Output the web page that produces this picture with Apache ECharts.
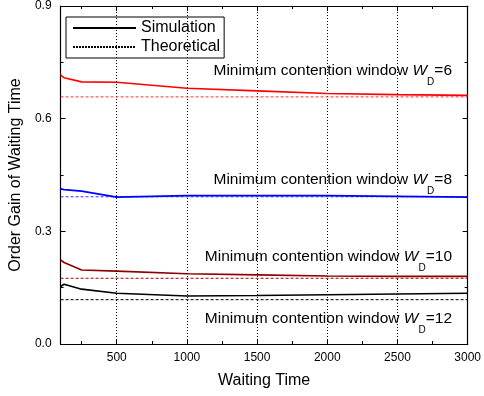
<!DOCTYPE html>
<html>
<head>
    <meta charset="utf-8">
    <title>Order Gain of Waiting Time</title>
    <script src="https://cdn.jsdelivr.net/npm/echarts@6.0.0/dist/echarts.min.js"></script>
    <style>
        html, body { margin: 0; padding: 0; background: #fff; }
        #main { width: 484px; height: 396px; }
    </style>
</head>
<body>
    <div id="main"></div>
    <script type="text/javascript">
        // waiting time samples
        var waitTime = [100, 125, 250, 500, 1000, 1500, 2000, 2500, 3000];
        // simulation results, one per minimum contention window
        var simW6  = [0.716, 0.709, 0.698, 0.697, 0.681, 0.674, 0.667, 0.664, 0.662];
        var simW8  = [0.413, 0.411, 0.407, 0.391, 0.395, 0.395, 0.395, 0.393, 0.391];
        var simW10 = [0.224, 0.217, 0.197, 0.194, 0.187, 0.184, 0.181, 0.180, 0.180];
        var simW12 = [0.153, 0.159, 0.146, 0.135, 0.128, 0.129, 0.131, 0.133, 0.135];
        // theoretical values
        var theoW6 = 0.658, theoW8 = 0.392, theoW10 = 0.175, theoW12 = 0.118;

        var xRange = [100, 3000];
        var xMajorTicks = [500, 1000, 1500, 2000, 2500, 3000];
        var xMinorTicks = [250, 750, 1250, 1750, 2250, 2750];
        var windowLabels = ['6', '8', '10', '12'];

        var chart = echarts.init(document.getElementById('main'));
        var font = 'Liberation Sans';

        function pairs(ys) {
            return waitTime.map(function (x, i) { return [x, ys[i]]; });
        }
        function flat(v) {
            return [[xRange[0], v], [xRange[1], v]];
        }
        function simLine(name, ys, color) {
            return {
                name: name, type: 'line', data: pairs(ys), symbol: 'none',
                lineStyle: { color: color, width: 1.6 }, silent: true, z: 3
            };
        }
        function theoLine(name, v, color) {
            return {
                name: name, type: 'line', data: flat(v), symbol: 'none',
                lineStyle: { color: color, width: 1, type: [3, 2] }, silent: true, z: 2
            };
        }
        function label(top, wd) {
            return {
                type: 'text', right: 32, top: top,
                style: {
                    text: '{a|Minimum contention window }{w|W}{d|D}{a|=' + wd + '}',
                    rich: {
                        a: { fontFamily: font, fontSize: 15.5, fill: '#000', lineHeight: 20, verticalAlign: 'top' },
                        w: { fontFamily: font, fontSize: 15.5, fontStyle: 'italic', fill: '#000', lineHeight: 20, verticalAlign: 'top' },
                        d: { fontFamily: font, fontSize: 10, fill: '#000', lineHeight: 24, verticalAlign: 'bottom' }
                    }
                }
            };
        }

        var tickStyle = { color: '#000', width: 1 };
        var baseX = {
            type: 'value', min: xRange[0], max: xRange[1],
            axisLine: { show: true, lineStyle: { color: '#000', width: 1.2 } },
            axisLabel: { show: false },
            splitLine: { show: false }
        };

        var option = {
            animation: false,
            backgroundColor: '#fff',
            textStyle: { fontFamily: font },
            grid: { left: 54, right: 13, top: 6, bottom: 52, containLabel: false },
            legend: {
                data: ['Simulation', 'Theoretical'],
                orient: 'vertical', left: 66, top: 17,
                itemWidth: 63, itemHeight: 15, itemGap: 3,
                padding: [3, 4, 3, 6],
                borderColor: '#000', borderWidth: 1,
                itemStyle: { opacity: 0 },
                textStyle: { fontFamily: font, fontSize: 16, color: '#000' },
                selectedMode: false
            },
            xAxis: [
                Object.assign({}, baseX, {
                    position: 'bottom',
                    name: 'Waiting Time', nameLocation: 'middle', nameGap: 29,
                    nameTextStyle: { fontFamily: font, fontSize: 16, color: '#000' },
                    axisTick: { inside: true, length: 5, lineStyle: tickStyle, customValues: xMajorTicks },
                    axisLabel: { show: true, customValues: xMajorTicks, margin: 8, fontFamily: font, fontSize: 12, color: '#000',
                        formatter: function (v) { return String(v); } },
                    splitLine: { show: true, lineStyle: { color: '#000', width: 1, type: [1, 2] } }
                }),
                Object.assign({}, baseX, {
                    position: 'bottom',
                    axisTick: { inside: true, length: 3, lineStyle: tickStyle, customValues: xMinorTicks }
                }),
                Object.assign({}, baseX, {
                    position: 'top',
                    axisTick: { inside: true, length: 5, lineStyle: tickStyle, customValues: xMajorTicks }
                }),
                Object.assign({}, baseX, {
                    position: 'top',
                    axisTick: { inside: true, length: 3, lineStyle: tickStyle, customValues: xMinorTicks }
                })
            ],
            yAxis: [
                {
                    type: 'value', min: 0, max: 0.9, interval: 0.3, position: 'left',
                    name: 'Order Gain of Waiting Time', nameLocation: 'middle', nameGap: 32,
                    nameTextStyle: { fontFamily: font, fontSize: 16, color: '#000' },
                    axisLine: { show: true, lineStyle: { color: '#000', width: 1.2 } },
                    axisTick: { inside: true, length: 5, lineStyle: tickStyle },
                    minorTick: { show: true, splitNumber: 2, length: 3, lineStyle: tickStyle },
                    axisLabel: { margin: 9, fontFamily: font, fontSize: 12, color: '#000',
                        formatter: function (v) { return v.toFixed(1); } },
                    splitLine: { show: false }
                },
                {
                    type: 'value', min: 0, max: 0.9, interval: 0.3, position: 'right',
                    axisLine: { show: true, lineStyle: { color: '#000', width: 1.2 } },
                    axisTick: { inside: true, length: 5, lineStyle: tickStyle },
                    minorTick: { show: true, splitNumber: 2, length: 3, lineStyle: tickStyle },
                    axisLabel: { show: false },
                    splitLine: { show: false }
                }
            ],
            graphic: [
                label(63, windowLabels[0]),
                label(172, windowLabels[1]),
                label(249, windowLabels[2]),
                label(311, windowLabels[3])
            ],
            series: [
                { name: 'Simulation', type: 'line', data: [], symbol: 'none',
                  lineStyle: { color: '#000', width: 1.6 }, itemStyle: { color: '#000' } },
                { name: 'Theoretical', type: 'line', data: [], symbol: 'none',
                  lineStyle: { color: '#000', width: 1, type: [2, 1] }, itemStyle: { color: '#000' } },
                theoLine('theo6', theoW6, '#ff3333'),
                theoLine('theo8', theoW8, '#3333ff'),
                theoLine('theo10', theoW10, '#aa0000'),
                theoLine('theo12', theoW12, '#000'),
                simLine('sim6', simW6, '#ff0000'),
                simLine('sim8', simW8, '#0000ff'),
                simLine('sim10', simW10, '#8b0000'),
                simLine('sim12', simW12, '#000')
            ]
        };
        chart.setOption(option);
    </script>
</body>
</html>
